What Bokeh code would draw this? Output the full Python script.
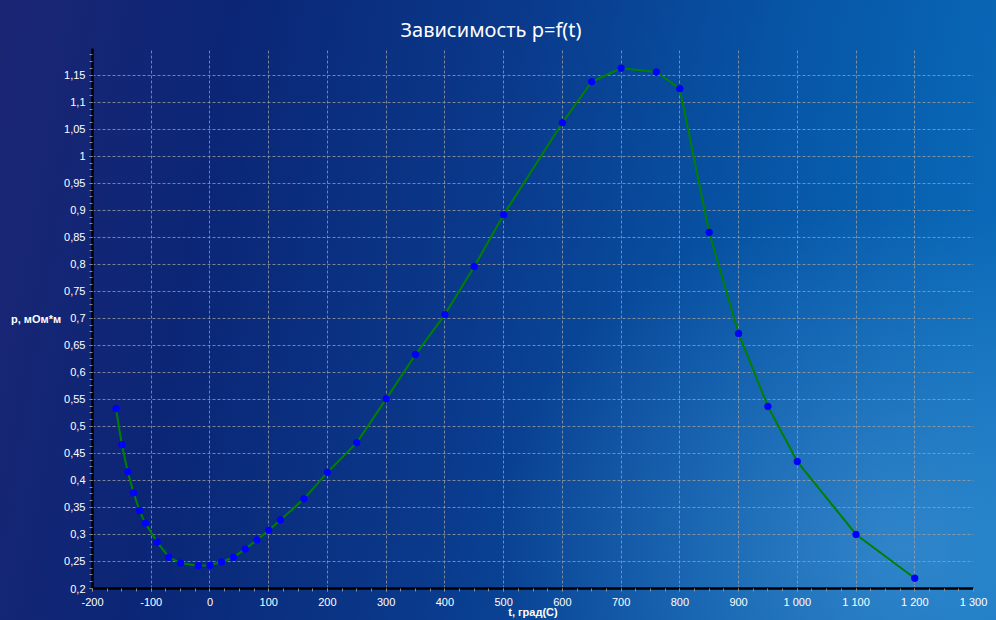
from bokeh.plotting import figure
from bokeh.models import (SingleIntervalTicker, CustomJSTickFormatter,
                          Range1d, ColumnDataSource)
from bokeh.embed import file_html
from bokeh.resources import INLINE

# ---- data ----
t_values = [-160, -150, -140, -130, -120, -110, -90, -70, -50, -20, 0, 20, 40, 60,
            80, 100, 120, 160, 200, 250, 300, 350, 400, 450, 500, 600, 650, 700,
            760, 800, 850, 900, 950, 1000, 1100, 1200]
p_values = [0.533, 0.466, 0.416, 0.377, 0.344, 0.321, 0.286, 0.258, 0.247, 0.242,
            0.243, 0.249, 0.258, 0.273, 0.290, 0.308, 0.327, 0.366, 0.415, 0.470,
            0.551, 0.633, 0.707, 0.796, 0.892, 1.062, 1.138, 1.163, 1.156, 1.125,
            0.859, 0.672, 0.537, 0.435, 0.300, 0.219]

title_text = "Зависимость p=f(t)"
x_label = "t, град(C)"
y_label = "p, мОм*м"

src = ColumnDataSource(data=dict(t=t_values, p=p_values))

p = figure(width=996, height=620, output_backend="svg", toolbar_location=None,
           x_range=Range1d(-200, 1300), y_range=Range1d(0.2, 1.1995),
           min_border_left=92, min_border_right=23, min_border_top=48,
           min_border_bottom=32, title=title_text)
p.outline_line_color = None
p.background_fill_alpha = 0
p.border_fill_alpha = 0
p.styles = {
    "background": "radial-gradient(ellipse 40% 55% at 90% 88%, rgba(120,190,240,0.35), rgba(120,190,240,0) 100%), "
                  "linear-gradient(100deg, #1b2574 0%, #0b2676 22%, #0a3a8c 48%, #0755a6 72%, #0a6fbd 100%)"
}

# title
p.title.align = "left"
p.title.offset = 308
p.title.standoff = 11
p.title.text_color = "white"
p.title.text_font = "Noto Sans"
p.title.text_font_size = "20px"
p.title.text_font_style = "normal"

# axes
p.xaxis.ticker = SingleIntervalTicker(interval=100, num_minor_ticks=4)
p.yaxis.ticker = SingleIntervalTicker(interval=0.05, num_minor_ticks=4)
p.xaxis.formatter = CustomJSTickFormatter(code="""
    var v = Math.round(tick);
    var s = Math.abs(v).toString().replace(/\\B(?=(\\d{3})+(?!\\d))/g, ' ');
    return (v < 0 ? '-' : '') + s;
""")
p.yaxis.formatter = CustomJSTickFormatter(code="""
    var v = Math.round(tick * 100) / 100;
    return v.toString().replace('.', ',');
""")
for ax in (p.xaxis[0], p.yaxis[0]):
    ax.axis_line_color = "black"
    ax.axis_line_width = 2.5
    ax.major_tick_line_color = "#8a8a8a"
    ax.minor_tick_line_color = "#8a8a8a"
    ax.major_tick_in = 0
    ax.major_tick_out = 3
    ax.minor_tick_in = 0
    ax.minor_tick_out = 3
    ax.major_label_text_color = "white"
    ax.major_label_text_font = "Liberation Sans"
    ax.major_label_text_font_size = "11px"
    ax.major_label_text_line_height = 1.0
    ax.major_label_standoff = 4
    ax.axis_label_text_color = "white"
    ax.axis_label_text_font = "Liberation Sans"
    ax.axis_label_text_font_style = "bold"
    ax.axis_label_text_font_size = "11px"
    ax.axis_label_text_line_height = 1.0
    ax.axis_label_standoff = 0
p.xaxis.major_label_standoff = 4
p.xaxis.axis_label_standoff = -5
p.xaxis.axis_label = x_label
p.yaxis.axis_label = y_label
p.yaxis.axis_label_orientation = "horizontal"

for g in (p.xgrid[0], p.ygrid[0]):
    g.grid_line_color = "#a0a0a0"
    g.grid_line_alpha = 0.75
    g.grid_line_dash = "3 2"
    g.grid_line_width = 1

# data
p.line("t", "p", source=src, line_color="#008000", line_width=2)
p.scatter("t", "p", source=src, marker="circle", size=6.5,
          fill_color="#0000ff", line_color="#0000ff")

open("out.html", "w").write(file_html(p, INLINE))
